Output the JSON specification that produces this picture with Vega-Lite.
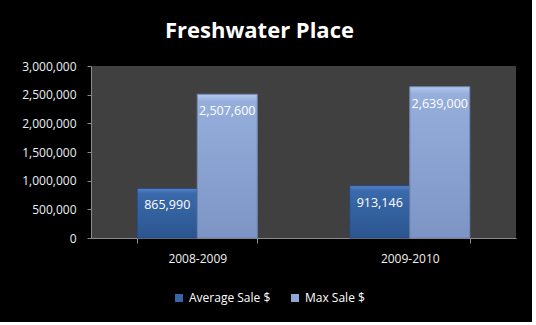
{
  "$schema": "https://vega.github.io/schema/vega-lite/v6.json",
  "width": 425,
  "height": 172,
  "autosize": {"type": "none"},
  "padding": {"left": 91, "right": 16, "top": 66, "bottom": 84},
  "background": "#000000",
  "view": {"fill": "#404040", "stroke": null},
  "config": {"font": "Open Sans"},
  "title": {
    "text": "Freshwater Place",
    "color": "#ffffff",
    "fontSize": 22,
    "fontWeight": "bold",
    "font": "Open Sans",
    "dx": -44,
    "offset": 17
  },
  "data": {
    "values": [
      {"period": "2008-2009", "series": "Average Sale $", "value": 865990},
      {"period": "2008-2009", "series": "Max Sale $", "value": 2507600},
      {"period": "2009-2010", "series": "Average Sale $", "value": 913146},
      {"period": "2009-2010", "series": "Max Sale $", "value": 2639000}
    ]
  },
  "encoding": {
    "x": {
      "field": "period",
      "type": "nominal",
      "scale": {"paddingInner": 0.435, "paddingOuter": 0.2175},
      "axis": {
        "title": null,
        "labelAngle": 0,
        "labelColor": "#f0f0f0",
        "labelFontSize": 12,
        "labelPadding": 10,
        "domainColor": "#8c8c8c",
        "tickColor": "#8c8c8c",
        "tickSize": 5,
        "tickBand": "extent"
      }
    },
    "xOffset": {"field": "series", "type": "nominal", "sort": ["Average Sale $", "Max Sale $"]},
    "y": {
      "field": "value",
      "type": "quantitative",
      "scale": {"domain": [0, 3000000]},
      "axis": {
        "title": null,
        "values": [0, 500000, 1000000, 1500000, 2000000, 2500000, 3000000],
        "format": ",d",
        "grid": false,
        "labelColor": "#eaf0f8",
        "labelFontSize": 12,
        "labelPadding": 11,
        "domainColor": "#8c8c8c",
        "tickColor": "#8c8c8c",
        "tickSize": 4
      }
    }
  },
  "layer": [
    {
      "mark": {"type": "bar"},
      "encoding": {
        "color": {
          "field": "series",
          "type": "nominal",
          "sort": ["Average Sale $", "Max Sale $"],
          "scale": {"range": ["#3666a6", "#8fa7d6"]},
          "legend": {
            "title": null,
            "orient": "none",
            "direction": "horizontal",
            "legendX": 82,
            "legendY": 226,
            "symbolType": "square",
            "symbolSize": 64,
            "symbolStrokeWidth": 0,
            "labelColor": "#ffffff",
            "labelFontSize": 12,
            "labelOffset": 4,
            "columnPadding": 18
          }
        }
      }
    },
    {
      "transform": [{"filter": "datum.series === 'Average Sale $'"}],
      "mark": {
        "type": "bar",
        "stroke": "#24467a",
        "strokeWidth": 1,
        "color": {"gradient": "linear", "x1": 0, "y1": 0, "x2": 0, "y2": 1, "stops": [{"offset": 0, "color": "#5686c8"}, {"offset": 0.1, "color": "#3a6aab"}, {"offset": 1, "color": "#2b5590"}]}
      }
    },
    {
      "transform": [{"filter": "datum.series === 'Max Sale $'"}],
      "mark": {
        "type": "bar",
        "stroke": "#6c80a8",
        "strokeWidth": 1,
        "color": {"gradient": "linear", "x1": 0, "y1": 0, "x2": 0, "y2": 1, "stops": [{"offset": 0, "color": "#b4c8ee"}, {"offset": 0.05, "color": "#96aedc"}, {"offset": 1, "color": "#7d95c4"}]}
      }
    },
    {
      "mark": {"type": "text", "color": "#ffffff", "fontSize": 12.5, "baseline": "middle", "dy": 17},
      "encoding": {"text": {"field": "value", "type": "quantitative", "format": ","}}
    }
  ]
}
